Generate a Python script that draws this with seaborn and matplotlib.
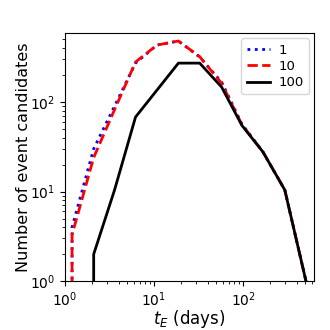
import matplotlib
matplotlib.use("Agg")
import matplotlib.pyplot as plt
import seaborn as sns
import numpy as np

# Data (log-spaced t_E bins)
t_E = [0.69, 1.2, 2.1, 3.6, 6.2, 10.8, 18.8, 32.6, 57.5, 97, 168, 295, 510]
n_1 = [0, 4.0, 30, 90, 272, 433, 480, 318, 167, 57, 27.6, 10.4, 1]
n_10 = [0, 3.3, 24, 82, 280, 433, 480, 321, 162, 56, 27.6, 10.4, 1]
n_100 = [0, 0, 2, 10.4, 68, 136, 272, 272, 147, 55, 27.6, 10.4, 1]
labels = ["1", "10", "100"]

fig = plt.figure(figsize=(3.3, 3.3), dpi=100)
ax = fig.add_axes([0.197, 0.148, 0.755, 0.752])

sns.lineplot(x=t_E, y=n_1, ax=ax, color="blue", linestyle=":", linewidth=2,
             label=labels[0], estimator=None, sort=False)
sns.lineplot(x=t_E, y=n_10, ax=ax, color="red", linestyle="--", linewidth=2,
             label=labels[1], estimator=None, sort=False)
sns.lineplot(x=t_E, y=n_100, ax=ax, color="black", linestyle="-", linewidth=2,
             label=labels[2], estimator=None, sort=False)

ax.set_xscale("log")
ax.set_yscale("log")
ax.set_xlim(1, 630)
ax.set_ylim(1, 590)
ax.set_xlabel("$t_E$ (days)", fontsize=12, labelpad=-1)
ax.set_ylabel("Number of event candidates", fontsize=11.5, labelpad=-0.5)
ax.tick_params(labelsize=10)
ax.legend(loc="upper right", fontsize=9.5, labelspacing=0.25,
          borderaxespad=0.4, handlelength=1.8, handletextpad=0.6)

fig.savefig("out.png", dpi=100)
